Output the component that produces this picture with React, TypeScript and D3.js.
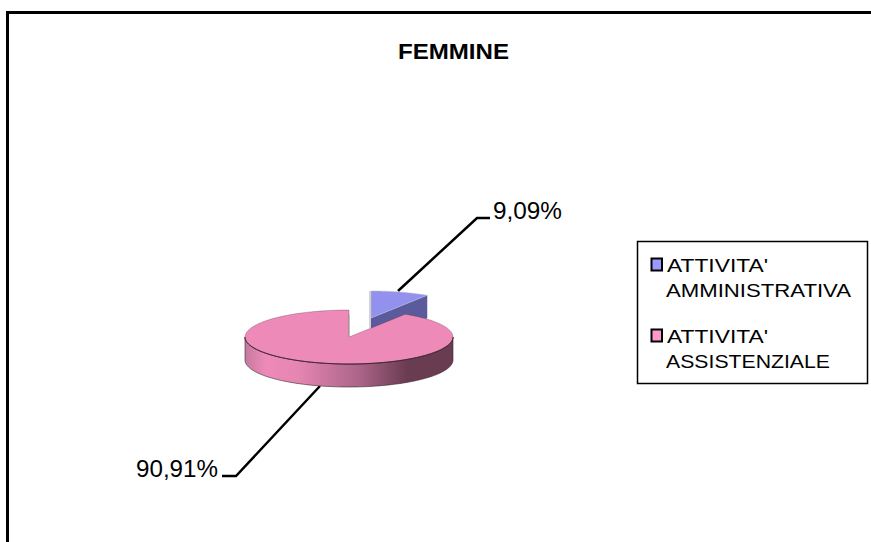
import React from "react";
import * as d3 from "d3";

const title = "FEMMINE";
const categories = ["ATTIVITA' AMMINISTRATIVA", "ATTIVITA' ASSISTENZIALE"];
const values = [9.09, 90.91];
const valueLabels = ["9,09%", "90,91%"];
const topColors = ["#9292ee", "#ee8ab8"];
const sideColors = ["#5a5a9c", "#ee8ab8"];
const legendLines = [["ATTIVITA'", "AMMINISTRATIVA"], ["ATTIVITA'", "ASSISTENZIALE"]];
const legendWidths = [[101, 185], [101, 164]];
const legendSwatch = ["#9999ff", "#ff99cc"];

const RX = 104, RY = 27, DEPTH = 23;
const centers = [{ x: 371, y: 318 }, { x: 349, y: 337 }];

const pie = d3.pie<number>().sort(null)(values);
const rim = (c: { x: number; y: number }, a: number, dy = 0): [number, number] => [
  c.x + RX * Math.sin(a),
  c.y - RY * Math.cos(a) + dy,
];
const sample = (a0: number, a1: number) => d3.range(0, 121).map((i) => a0 + ((a1 - a0) * i) / 120);
const line = d3.line();

function topPath(i: number) {
  const c = centers[i];
  const pts = sample(pie[i].startAngle, pie[i].endAngle).map((a) => rim(c, a));
  return line([[c.x, c.y], ...pts]) + "Z";
}
function wallPath(i: number) {
  const c = centers[i];
  const a0 = Math.max(pie[i].startAngle, Math.PI / 2);
  const a1 = Math.min(pie[i].endAngle, (3 * Math.PI) / 2);
  const arc = sample(a0, a1);
  return line([...arc.map((a) => rim(c, a)), ...arc.slice().reverse().map((a) => rim(c, a, DEPTH))]) + "Z";
}
function blueCutWall() {
  const c = centers[0];
  const e = rim(c, pie[0].endAngle);
  return line([[c.x, c.y], e, [e[0], e[1] + DEPTH], [c.x, c.y + DEPTH]]) + "Z";
}

const font = "'Liberation Sans', Arial, sans-serif";

export default function App() {
  const i0 = pie[1];
  const bottomArc = sample(Math.PI / 2, (3 * Math.PI) / 2);
  return (
    <svg width={871} height={542} style={{ position: "absolute", left: 0, top: 0, background: "#fff" }}>
      <defs>
        <linearGradient id="wall" x1="245" x2="453" y1="0" y2="0" gradientUnits="userSpaceOnUse">
          <stop offset="0" stopColor="#c47a9e" />
          <stop offset="0.1" stopColor="#ee8ab8" />
          <stop offset="0.25" stopColor="#e686b2" />
          <stop offset="0.55" stopColor="#ab6488" />
          <stop offset="0.78" stopColor="#6a3c52" />
          <stop offset="1" stopColor="#6a3c52" />
        </linearGradient>
      </defs>
      <path d="M7.5,542V12.5H871" fill="none" stroke="#000" strokeWidth={3} />
      <text x={398} y={59} textLength={111} lengthAdjust="spacingAndGlyphs" fontFamily={font} fontWeight="bold" fontSize={22} fill="#000">{title}</text>

      {/* leader lines */}
      <path d="M490,218H477L398,291" fill="none" stroke="#000" strokeWidth={2.5} />
      <path d="M320,386L236,476H222" fill="none" stroke="#000" strokeWidth={2.5} />

      {/* exploded slice */}
      <path d={blueCutWall()} fill={sideColors[0]} />
      <path d={topPath(0)} fill={topColors[0]} stroke="#b9b9c8" strokeWidth={0.5} />
      <path d={`M${centers[0].x - 1},${centers[0].y - 27}V${centers[0].y + 10}`} stroke="#c4c4c4" strokeWidth={1.5} />

      {/* main slice */}
      <path d={wallPath(1)} fill="url(#wall)" stroke="#3a2530" strokeWidth={0.6} />
      <path d={topPath(1)} fill={topColors[1]} stroke="#4a3040" strokeWidth={0.3} />
      <path d={line(bottomArc.map((a) => rim(centers[1], a))) || ""} fill="none" stroke="#3a2530" strokeWidth={1} />
      <path d={`M${centers[1].x},${centers[1].y}V${rim(centers[1], i0.startAngle + Math.PI * 2)[1]}`} stroke="#999" strokeWidth={1} />

      {/* value labels */}
      <text x={493} y={219} textLength={69} lengthAdjust="spacingAndGlyphs" fontFamily={font} fontSize={23} fill="#000">{valueLabels[0]}</text>
      <text x={136} y={477} textLength={82} lengthAdjust="spacingAndGlyphs" fontFamily={font} fontSize={24} fill="#000">{valueLabels[1]}</text>

      {/* legend */}
      <rect x={637.5} y={241.5} width={230} height={142} fill="#fff" stroke="#000" strokeWidth={1.5} />
      {categories.map((cat, i) => {
        const y = i === 0 ? 272 : 343;
        const y2 = i === 0 ? 297 : 368;
        return (
          <g key={cat}>
            <rect x={651.5} y={y - 13.5} width={10.5} height={12} fill={legendSwatch[i]} stroke="#000" strokeWidth={2} />
            <text x={667} y={y} textLength={legendWidths[i][0]} lengthAdjust="spacingAndGlyphs" fontFamily={font} fontSize={19} fill="#000">{legendLines[i][0]}</text>
            <text x={666} y={y2} textLength={legendWidths[i][1]} lengthAdjust="spacingAndGlyphs" fontFamily={font} fontSize={19} fill="#000">{legendLines[i][1]}</text>
          </g>
        );
      })}
    </svg>
  );
}
